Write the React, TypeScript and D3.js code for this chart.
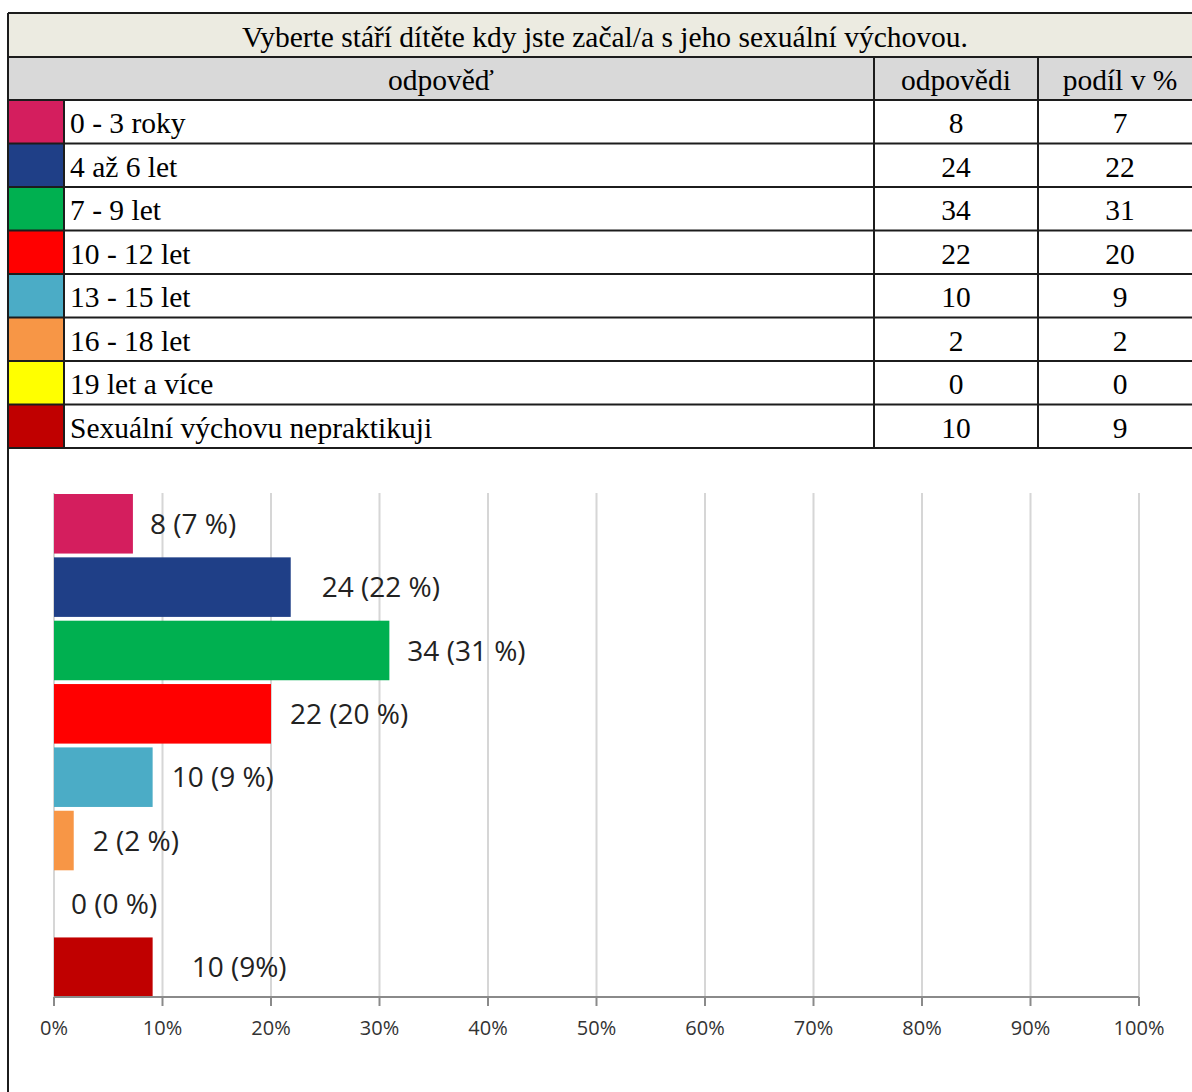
import * as d3 from "d3";

const title = "Vyberte stáří dítěte kdy jste začal/a s jeho sexuální výchovou.";
const headers = ["odpověď", "odpovědi", "podíl v %"];
const categories = [
  "0 - 3 roky",
  "4 až 6 let",
  "7 - 9 let",
  "10 - 12 let",
  "13 - 15 let",
  "16 - 18 let",
  "19 let a více",
  "Sexuální výchovu nepraktikuji",
];
const counts = [8, 24, 34, 22, 10, 2, 0, 10];
const shares = [7, 22, 31, 20, 9, 2, 0, 9];
const barLabels = ["8 (7 %)", "24 (22 %)", "34 (31 %)", "22 (20 %)", "10 (9 %)", "2 (2 %)", "0 (0 %)", "10 (9%)"];
const colors = ["#d41e5e", "#1f3f87", "#00b050", "#ff0000", "#4bacc6", "#f79646", "#ffff00", "#c00000"];
const ticks = [0, 10, 20, 30, 40, 50, 60, 70, 80, 90, 100];
// label offsets from the bar end, as placed in the original
const labelNudge = [17, 31, 18, 19, 19, 19, 17, 39];

const W = 1192;
const H = 1092;
const serif = "'Liberation Serif', 'Times New Roman', serif";
const sans = "'Open Sans', sans-serif";
const lineColor = "#1c1c1c";

export default function App() {
  const total = d3.sum(counts);

  // table geometry
  const tLeft = 8;
  const tRight = 1202;
  const titleTop = 13;
  const headTop = 57;
  const rowsTop = 100;
  const rowsBottom = 448;
  const swatchRight = 64;
  const col1 = 874;
  const col2 = 1038;

  const rowY = d3.scaleBand<string>().domain(categories).range([rowsTop, rowsBottom]);

  // chart geometry
  const plotTop = 493;
  const plotBottom = 997;
  const x = d3.scaleLinear().domain([0, 100]).range([54, 1139]);
  const y = d3.scaleBand<string>().domain(categories).range([plotTop + 1, plotBottom]).paddingInner(0.06).paddingOuter(0);

  return (
    <svg width={W} height={H} style={{ position: "absolute", left: 0, top: 0, background: "#fff" }}>
      {/* table backgrounds */}
      <rect x={tLeft} y={titleTop} width={tRight - tLeft} height={headTop - titleTop} fill="#ecebe1" />
      <rect x={tLeft} y={headTop} width={tRight - tLeft} height={rowsTop - headTop} fill="#d9d9d9" />
      {categories.map((c, i) => (
        <rect key={c} x={tLeft} y={rowY(c)} width={swatchRight - tLeft} height={rowY.bandwidth()} fill={colors[i]} />
      ))}

      {/* table grid */}
      <g stroke={lineColor} strokeWidth={2} fill="none">
        {[titleTop, headTop, rowsTop, ...categories.map((c) => (rowY(c) as number) + rowY.bandwidth())].map((yy, i) => (
          <line key={i} x1={tLeft} x2={tRight} y1={yy} y2={yy} />
        ))}
        <line x1={tLeft} x2={tLeft} y1={titleTop} y2={H} />
        <line x1={swatchRight} x2={swatchRight} y1={rowsTop} y2={rowsBottom} />
        <line x1={col1} x2={col1} y1={headTop} y2={rowsBottom} />
        <line x1={col2} x2={col2} y1={headTop} y2={rowsBottom} />
      </g>

      {/* table text */}
      <g fontFamily={serif} fontSize={29.5} fill="#000">
        <text x={(tLeft + tRight) / 2} y={titleTop + 34} textAnchor="middle">{title}</text>
        <text x={(tLeft + col1) / 2} y={headTop + 33} textAnchor="middle">{headers[0]}</text>
        <text x={(col1 + col2) / 2} y={headTop + 33} textAnchor="middle">{headers[1]}</text>
        <text x={(col2 + tRight) / 2} y={headTop + 33} textAnchor="middle">{headers[2]}</text>
        {categories.map((c, i) => {
          const by = (rowY(c) as number) + 33;
          return (
            <g key={c}>
              <text x={swatchRight + 6} y={by}>{c}</text>
              <text x={(col1 + col2) / 2} y={by} textAnchor="middle">{counts[i]}</text>
              <text x={(col2 + tRight) / 2} y={by} textAnchor="middle">{shares[i]}</text>
            </g>
          );
        })}
      </g>

      {/* chart gridlines */}
      <g stroke="#d6d6d6" strokeWidth={2}>
        {ticks.map((t) => (
          <line key={t} x1={x(t)} x2={x(t)} y1={plotTop} y2={plotBottom} />
        ))}
      </g>

      {/* bars */}
      <g>
        {categories.map((c, i) => {
          const pct = (counts[i] / total) * 100;
          return (
            <rect
              key={c}
              x={x(0)}
              y={y(c)}
              width={x(pct) - x(0)}
              height={y.bandwidth()}
              fill={colors[i]}
            />
          );
        })}
      </g>

      {/* axis */}
      <g stroke="#8a8a8a" strokeWidth={2}>
        <line x1={x(0)} x2={x(100)} y1={plotBottom} y2={plotBottom} />
        {ticks.map((t) => (
          <line key={t} x1={x(t)} x2={x(t)} y1={plotBottom} y2={plotBottom + 9} />
        ))}
      </g>
      <g fontFamily={sans} fontSize={20} fill="#333" textAnchor="middle">
        {ticks.map((t) => (
          <text key={t} x={x(t)} y={plotBottom + 38}>{`${t}%`}</text>
        ))}
      </g>

      {/* value labels */}
      <g fontFamily={sans} fontSize={28} fill="#222">
        {categories.map((c, i) => {
          const pct = (counts[i] / total) * 100;
          return (
            <text key={c} x={x(pct) + labelNudge[i]} y={(y(c) as number) + y.bandwidth() / 2} dy="0.36em">
              {barLabels[i]}
            </text>
          );
        })}
      </g>
    </svg>
  );
}
